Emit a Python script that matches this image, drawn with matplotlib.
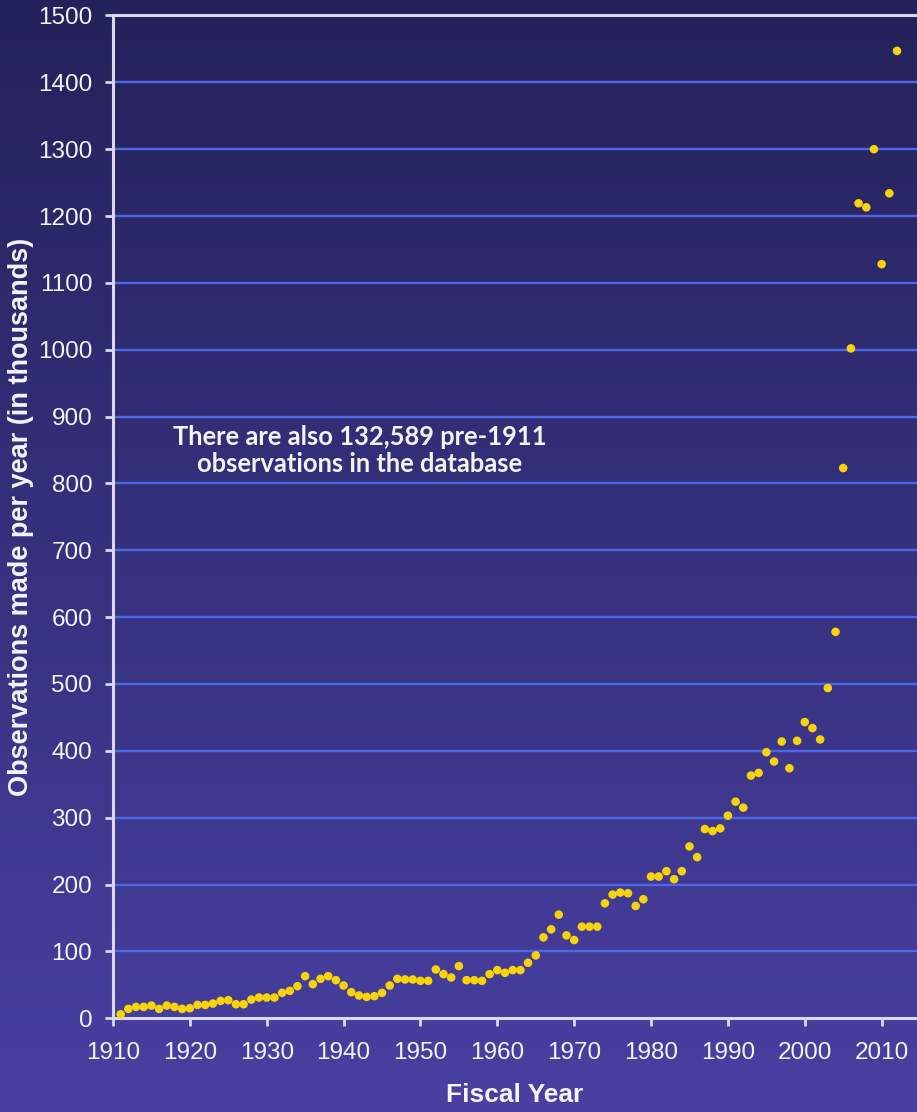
import numpy as np
import matplotlib
matplotlib.use("Agg")
import matplotlib.pyplot as plt
from matplotlib.colors import LinearSegmentedColormap

# Data (observations per fiscal year, thousands)
years = list(range(1911, 2013))
observations = [
    6, 14, 17, 17, 19, 14, 19, 17, 14, 15,          # 1911-1920
    20, 20, 22, 26, 27, 21, 21, 28, 31, 31,         # 1921-1930
    31, 38, 41, 48, 63, 51, 59, 63, 57, 49,         # 1931-1940
    39, 34, 32, 33, 38, 49, 59, 58, 58, 56,         # 1941-1950
    56, 73, 66, 61, 78, 57, 57, 56, 66, 72,         # 1951-1960
    68, 72, 72, 83, 94, 121, 133, 155, 124, 117,    # 1961-1970
    137, 137, 137, 172, 185, 188, 187, 168, 178, 212,   # 1971-1980
    212, 220, 208, 220, 257, 241, 283, 280, 284, 303,   # 1981-1990
    324, 315, 363, 367, 398, 384, 414, 374, 415, 443,   # 1991-2000
    434, 417, 494, 578, 823, 1002, 1219, 1213, 1300, 1128,  # 2001-2010
    1234, 1447,                                     # 2011-2012
]
x_ticks = [1910, 1920, 1930, 1940, 1950, 1960, 1970, 1980, 1990, 2000, 2010]
y_ticks = list(range(0, 1600, 100))
note = "There are also 132,589 pre-1911\nobservations in the database"

BG_TOP = "#24225a"
BG_BOTTOM = "#4940a2"
GRID = "#4d68e6"
SPINE = "#d9d9ea"
DOT = "#f7d30a"
TEXT = "#f4f4fa"

fig = plt.figure(figsize=(9.17, 11.12), dpi=100)

# gradient background over the whole figure
bg = fig.add_axes([0, 0, 1, 1], zorder=-10)
cmap = LinearSegmentedColormap.from_list("bg", [BG_TOP, BG_BOTTOM])
grad = np.linspace(0, 1, 256).reshape(-1, 1)
bg.imshow(grad, aspect="auto", cmap=cmap, extent=[0, 1, 0, 1])
bg.axis("off")

ax = fig.add_axes([0.1232, 0.0843, 0.8768, 0.9018])
ax.patch.set_alpha(0)

ax.scatter(years, observations, s=38, color=DOT, edgecolors="none", zorder=5, clip_on=False)

ax.set_xlim(1910, 2014.6)
ax.set_ylim(0, 1500)
ax.set_xticks(x_ticks)
ax.set_yticks(y_ticks)

for y in y_ticks[1:-1]:
    ax.axhline(y, color=GRID, lw=1.7, zorder=1)

for side in ["left", "bottom", "top"]:
    ax.spines[side].set_color(SPINE)
    ax.spines[side].set_linewidth(2.2)
ax.spines["right"].set_visible(False)

ax.tick_params(axis="both", direction="out", color=SPINE, width=2, length=6,
               labelcolor=TEXT, labelsize=17.5)
ax.tick_params(axis="y", pad=9)
ax.tick_params(axis="x", pad=11)
for lbl in ax.get_xticklabels() + ax.get_yticklabels():
    lbl.set_fontfamily("Liberation Sans")

ax.set_xlabel("Fiscal Year", fontsize=19, fontweight="bold", color=TEXT,
              family="Liberation Sans", labelpad=14)
ax.set_ylabel("Observations made per year (in thousands)", fontsize=19.5,
              fontweight="bold", color=TEXT, family="Liberation Sans", labelpad=3)

ax.text(0.307, 0.566, note, transform=ax.transAxes, ha="center", va="center",
        fontsize=18.4, fontweight="bold", color=TEXT, family="Lato", linespacing=1.15)

fig.savefig("out.png", dpi=100)
plt.close(fig)
